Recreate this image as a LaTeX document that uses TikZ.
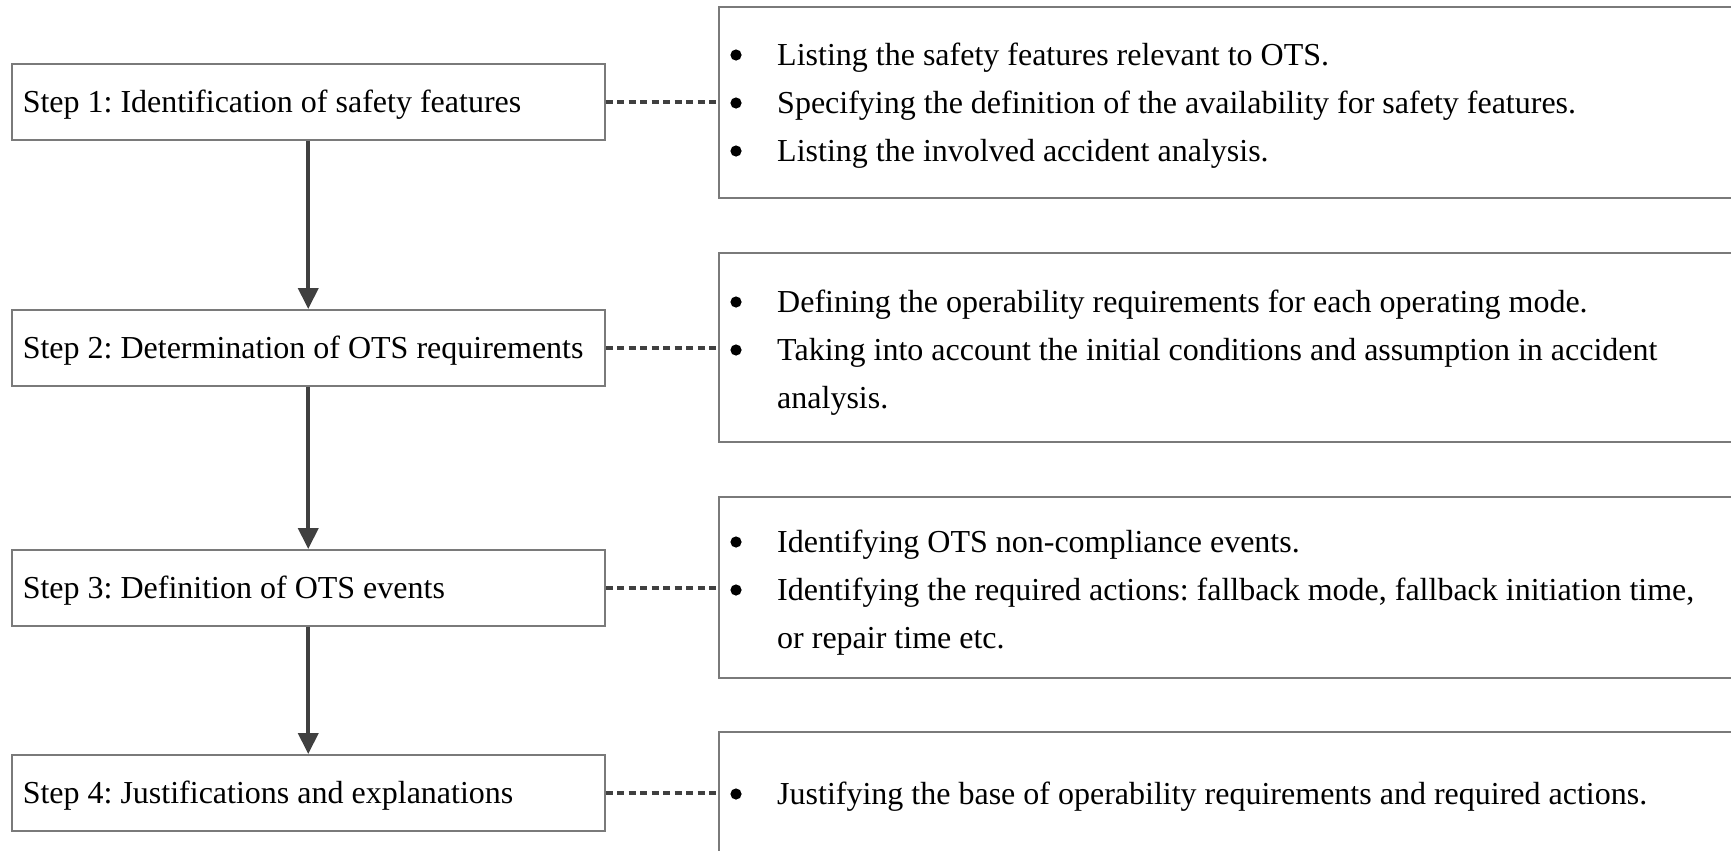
\documentclass[tikz,border=0pt]{standalone}
\usepackage{fontspec}
\setmainfont{Liberation Serif}
\usetikzlibrary{arrows.meta}
\definecolor{boxgray}{HTML}{7A7A7A}
\definecolor{linegray}{HTML}{404040}
\begin{document}
\frenchspacing
\begin{tikzpicture}[x=1bp,y=-1bp,
  every node/.style={font=\fontsize{32bp}{48bp}\selectfont},
  stepbox/.style={draw=boxgray, line width=1.5bp, anchor=north west,
    minimum height=76bp, inner xsep=11bp, inner ysep=0pt,
    text height=22bp, text depth=0pt},
  descbox/.style={draw=boxgray, line width=1.5bp, anchor=north west,
    minimum width=1040bp, inner sep=0pt},
  itemtext/.style={anchor=base west, inner sep=0pt},
  flowarrow/.style={draw=linegray, line width=4bp,
    -{Triangle[length=21bp,width=20bp]}},
  dashline/.style={draw=linegray, line width=3.5bp, dash pattern=on 7bp off 4.5bp}
]
\useasboundingbox (0,0) rectangle (1731,851);
\clip (0,0) rectangle (1731,851);
\newcommand{\stxt}[1]{\makebox[571bp][l]{#1}}

% step boxes
\node[stepbox] (s1) at (11,63)  {\stxt{Step 1: Identification of safety features}};
\node[stepbox] (s2) at (11,309) {\stxt{Step 2: Determination of OTS requirements}};
\node[stepbox] (s3) at (11,549) {\stxt{Step 3: Definition of OTS events}};
\node[stepbox] (s4) at (11,754) {\stxt{Step 4: Justifications and explanations}};

% description boxes
\node[descbox, minimum height=191bp] (d1) at (718,6)   {};
\node[descbox, minimum height=189bp] (d2) at (718,252) {};
\node[descbox, minimum height=181bp] (d3) at (718,496) {};
\node[descbox, minimum height=150bp] (d4) at (718,731) {};

% texts
\node[itemtext] (d1a) at (777,65)  {Listing the safety features relevant to OTS.};
\node[itemtext] (d1b) at (777,113) {Specifying the definition of the availability for safety features.};
\node[itemtext] (d1c) at (777,161) {Listing the involved accident analysis.};

\node[itemtext] (d2a) at (777,312) {Defining the operability requirements for each operating mode.};
\node[itemtext] (d2b) at (777,360) {Taking into account the initial conditions and assumption in accident};
\node[itemtext] (d2c) at (777,408) {analysis.};

\node[itemtext] (d3a) at (777,552) {Identifying OTS non-compliance events.};
\node[itemtext] (d3b) at (777,600) {Identifying the required actions: fallback mode, fallback initiation time,};
\node[itemtext] (d3c) at (777,648) {or repair time etc.};

\node[itemtext] (d4a) at (777,804) {Justifying the base of operability requirements and required actions.};

% bullets
\foreach \n in {d1a,d1b,d1c,d2a,d2b,d3a,d3b,d4a}
  \fill[black] ([xshift=-41bp,yshift=10bp]\n.base west) circle (5.6bp);

% arrows
\draw[flowarrow] (s1.south) -- (s2.north);
\draw[flowarrow] (s2.south) -- (s3.north);
\draw[flowarrow] (s3.south) -- (s4.north);

% dashed connectors
\draw[dashline] (s1.east) -- (s1.east -| d1.west);
\draw[dashline] (s2.east) -- (s2.east -| d2.west);
\draw[dashline] (s3.east) -- (s3.east -| d3.west);
\draw[dashline] (s4.east) -- (s4.east -| d4.west);
\end{tikzpicture}
\end{document}
